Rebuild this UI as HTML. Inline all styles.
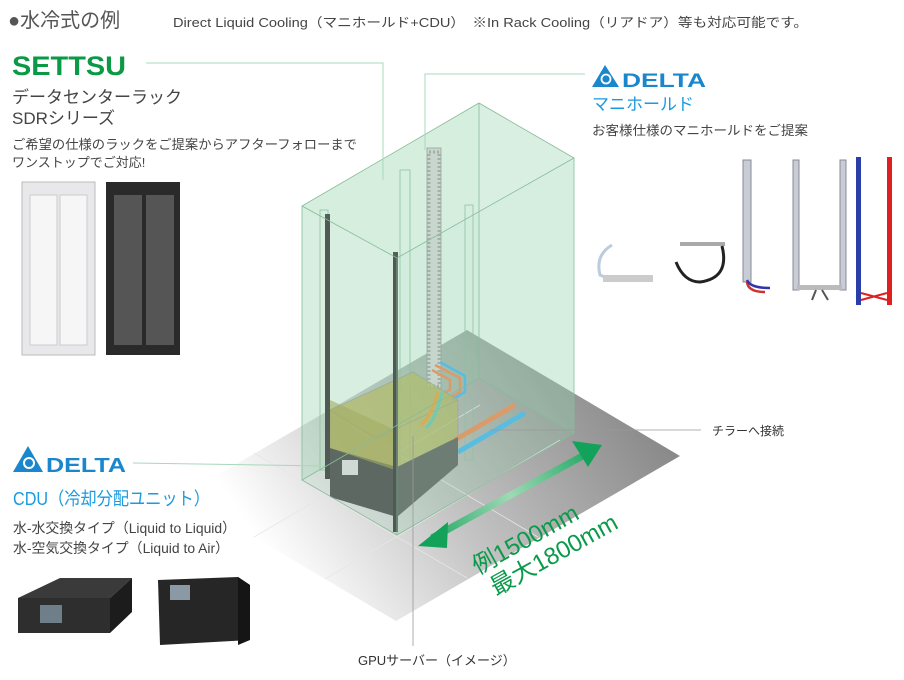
<!DOCTYPE html>
<html><head><meta charset="utf-8"><style>
html,body{margin:0;padding:0;background:#fff;}
svg{display:block;font-family:"Liberation Sans","Noto Sans CJK JP",sans-serif;}
</style></head><body>
<svg width="904" height="680" viewBox="0 0 904 680" xmlns="http://www.w3.org/2000/svg">
<defs>
<linearGradient id="fl" x1="620" y1="380" x2="300" y2="600" gradientUnits="userSpaceOnUse">
<stop offset="0" stop-color="#8a8a8a"/><stop offset="0.55" stop-color="#c4c4c4"/><stop offset="1" stop-color="#ffffff"/></linearGradient>
<linearGradient id="arr" x1="420" y1="545" x2="600" y2="447" gradientUnits="userSpaceOnUse">
<stop offset="0" stop-color="#12a25a"/><stop offset="0.5" stop-color="#9fd9b5"/><stop offset="1" stop-color="#12a25a"/></linearGradient>
<linearGradient id="srv" x1="395" y1="0" x2="460" y2="0" gradientUnits="userSpaceOnUse">
<stop offset="0" stop-color="#777"/><stop offset="1" stop-color="#444"/></linearGradient>
</defs>

<!-- header -->
<text x="8" y="27" font-size="20" fill="#555">●水冷式の例</text>
<text x="173" y="27" font-size="13" fill="#444" textLength="635" lengthAdjust="spacingAndGlyphs">Direct Liquid Cooling（マニホールド+CDU）　※In Rack Cooling（リアドア）等も対応可能です。</text>

<!-- floor -->
<polygon points="467,330 680,456 396,621 183,495" fill="url(#fl)"/>
<g stroke="#e6e6e6" stroke-width="0.8" fill="none">
<line x1="254" y1="537" x2="480" y2="405"/><line x1="325" y1="579" x2="560" y2="440"/>
<line x1="254" y1="453" x2="467" y2="578"/><line x1="325" y1="411" x2="538" y2="537"/>
</g>

<!-- rack back faces -->
<polygon points="479,103 574,158 574,433 479,378" fill="#8fd0aa" fill-opacity="0.18"/>
<polygon points="302,206 479,103 479,378 302,480" fill="#8fd0aa" fill-opacity="0.22"/>
<g stroke="#8cbf9f" stroke-width="0.8" fill="none">
<rect x="400" y="170" width="10" height="330"/>
<rect x="465" y="205" width="8" height="255"/>
<rect x="320" y="210" width="8" height="260"/>
</g>
<!-- manifold column -->
<rect x="427" y="148" width="14" height="240" fill="#d8d8d8" stroke="#999" stroke-width="0.8"/>
<rect x="429" y="152" width="10" height="234" fill="none" stroke="#a8a8a8" stroke-dasharray="2,2" stroke-width="3"/>
<path d="M432,370 L450,380 L450,390 L438,396 M435,365 L460,378 L460,392 L446,400" stroke="#f08c5a" stroke-width="2.5" fill="none"/>
<path d="M440,362 L465,376 L465,392 L452,400" stroke="#4ab8f0" stroke-width="2.5" fill="none"/>
<!-- CDU yellow box -->
<polygon points="330,410 413,372 458,400 458,440 376,478 330,452" fill="#b8b860" fill-opacity="0.75" stroke="#999" stroke-width="0.6"/>
<line x1="330" y1="410" x2="376" y2="438" stroke="#999" stroke-width="0.6"/>
<line x1="376" y1="438" x2="458" y2="400" stroke="#999" stroke-width="0.6"/>
<path d="M438,392 Q430,420 420,425" stroke="#f0a040" stroke-width="3" fill="none"/>
<path d="M442,392 Q436,420 426,428" stroke="#6cc8b0" stroke-width="3" fill="none"/>
<line x1="455" y1="440" x2="515" y2="405" stroke="#f08c5a" stroke-width="5"/>
<line x1="458" y1="452" x2="525" y2="413" stroke="#4ab8f0" stroke-width="5"/>
<!-- server -->
<polygon points="330,448 397,467 397,517 330,497" fill="#555"/>
<polygon points="397,467 458,437 458,465 397,517" fill="#666"/>
<polygon points="330,400 395,430 395,470 330,448" fill="#a6a658" fill-opacity="0.6"/>
<rect x="342" y="460" width="16" height="15" fill="#ddd"/>
<!-- rails -->
<rect x="325" y="214" width="5" height="265" fill="#444"/>
<rect x="393" y="252" width="5" height="280" fill="#444"/>
<!-- rack front faces -->
<polygon points="397,258 574,158 574,433 397,535" fill="#8fd0aa" fill-opacity="0.22"/>
<polygon points="302,206 397,258 397,535 302,480" fill="#8fd0aa" fill-opacity="0.16"/>
<polygon points="302,206 479,103 574,158 397,258" fill="#8fd0aa" fill-opacity="0.2"/>
<g stroke="#86bb99" stroke-width="0.8" fill="none">
<polygon points="302,206 479,103 574,158 574,433 397,535 302,480"/>
<line x1="397" y1="258" x2="397" y2="535"/><line x1="302" y1="206" x2="397" y2="258"/><line x1="397" y1="258" x2="574" y2="158"/>
<line x1="479" y1="103" x2="479" y2="378"/><line x1="302" y1="480" x2="479" y2="378"/><line x1="479" y1="378" x2="574" y2="433"/>
</g>

<!-- arrow -->
<line x1="432" y1="538" x2="588" y2="453" stroke="url(#arr)" stroke-width="7"/>
<polygon points="418,546 448,522 447,548" fill="#12a25a"/>
<polygon points="602,445 572,441 588,467" fill="#12a25a"/>
<g fill="#0a9a4a" font-size="24">
<text transform="translate(478,575) rotate(-29)">例1500mm</text>
<text transform="translate(496,596) rotate(-29)">最大1800mm</text>
</g>

<!-- leader lines -->
<g stroke="#a8d8bd" stroke-width="1" fill="none">
<polyline points="146,63 383,63 383,180"/>
<polyline points="585,74 425,74 425,150"/>
<line x1="133" y1="463" x2="325" y2="466"/>
</g>
<g stroke="#999" stroke-width="0.8">
<line x1="490" y1="430" x2="701" y2="430"/>
<line x1="413" y1="436" x2="413" y2="646"/>
</g>
<text x="712" y="435" font-size="12" fill="#333">チラーへ接続</text>
<text x="358" y="665" font-size="13" fill="#333">GPUサーバー（イメージ）</text>

<!-- left text -->
<text x="12" y="75" font-size="27" font-weight="bold" fill="#0a9a45" textLength="114" lengthAdjust="spacingAndGlyphs">SETTSU</text>
<text x="12" y="103" font-size="17" fill="#444">データセンターラック</text>
<text x="12" y="124" font-size="17" fill="#444">SDRシリーズ</text>
<text x="12" y="149" font-size="13" fill="#444" textLength="345" lengthAdjust="spacingAndGlyphs">ご希望の仕様のラックをご提案からアフターフォローまで</text>
<text x="12" y="167" font-size="13" fill="#444">ワンストップでご対応!</text>
<g>
<rect x="22" y="182" width="73" height="173" fill="#e8e8ea" stroke="#bbb"/>
<rect x="30" y="195" width="27" height="150" fill="#f6f6f6" stroke="#ccc"/>
<rect x="60" y="195" width="27" height="150" fill="#f6f6f6" stroke="#ccc"/>
<rect x="106" y="182" width="74" height="173" fill="#2a2a2a"/>
<rect x="114" y="195" width="28" height="150" fill="#555"/>
<rect x="146" y="195" width="28" height="150" fill="#555"/>
</g>

<!-- Delta logo top right -->
<polygon points="592,87 605,65 619,87" fill="#1a86cc"/>
<circle cx="606" cy="79" r="4.5" fill="none" stroke="#fff" stroke-width="1.8"/>
<text x="622" y="87" font-size="19" font-weight="bold" fill="#1a86cc" textLength="84" lengthAdjust="spacingAndGlyphs">DELTA</text>
<text x="592" y="110" font-size="17" fill="#1a9ae0">マニホールド</text>
<text x="592" y="135" font-size="13" fill="#444" textLength="216" lengthAdjust="spacingAndGlyphs">お客様仕様のマニホールドをご提案</text>
<g fill="none">
<path d="M612,245 Q595,255 600,275 L612,280" stroke="#bcd" stroke-width="3"/>
<rect x="603" y="275" width="50" height="7" fill="#ccc"/>
<rect x="680" y="242" width="45" height="4" fill="#aaa"/>
<path d="M722,246 Q730,278 700,282 Q684,282 676,262" stroke="#222" stroke-width="3"/>
<rect x="743" y="160" width="8" height="122" fill="#c8ccd4" stroke="#889"/>
<path d="M747,282 Q748,292 765,292" stroke="#c33" stroke-width="2.5"/>
<path d="M747,280 Q750,288 770,288" stroke="#33a" stroke-width="2.5"/>
<rect x="793" y="160" width="6" height="130" fill="#c8ccd4" stroke="#889"/>
<rect x="840" y="160" width="6" height="130" fill="#c8ccd4" stroke="#889"/>
<rect x="797" y="285" width="45" height="5" fill="#bbb"/>
<path d="M816,290 L812,300 M822,290 L828,300" stroke="#555" stroke-width="2"/>
<rect x="856" y="157" width="5" height="148" fill="#2a3ea8"/>
<rect x="887" y="157" width="5" height="148" fill="#e02020"/>
<path d="M861,293 L887,300 M861,300 L887,293" stroke="#e02020" stroke-width="2"/>
</g>

<!-- Delta logo CDU -->
<polygon points="13,472 28,446 43,472" fill="#1a86cc"/>
<circle cx="29" cy="463" r="5" fill="none" stroke="#fff" stroke-width="2"/>
<text x="46" y="472" font-size="20" font-weight="bold" fill="#1a86cc" textLength="80" lengthAdjust="spacingAndGlyphs">DELTA</text>
<text x="13" y="505" font-size="18" fill="#1a9ae0" textLength="197" lengthAdjust="spacingAndGlyphs">CDU（冷却分配ユニット）</text>
<text x="13" y="533" font-size="14" fill="#444" textLength="223" lengthAdjust="spacingAndGlyphs">水-水交換タイプ（Liquid to Liquid）</text>
<text x="13" y="553" font-size="14" fill="#444" textLength="216" lengthAdjust="spacingAndGlyphs">水-空気交換タイプ（Liquid to Air）</text>
<polygon points="18,598 60,578 132,578 110,598" fill="#3a3a3a"/>
<rect x="18" y="598" width="92" height="35" fill="#2e2e2e"/>
<polygon points="110,598 132,578 132,612 110,633" fill="#1c1c1c"/>
<rect x="40" y="605" width="22" height="18" fill="#6f7f8a"/>
<polygon points="158,580 238,577 250,585 250,640 160,645" fill="#262626"/>
<rect x="170" y="585" width="20" height="15" fill="#8a99a3"/>
<polygon points="238,577 250,585 250,640 238,645" fill="#151515"/>
</svg>
</body></html>
